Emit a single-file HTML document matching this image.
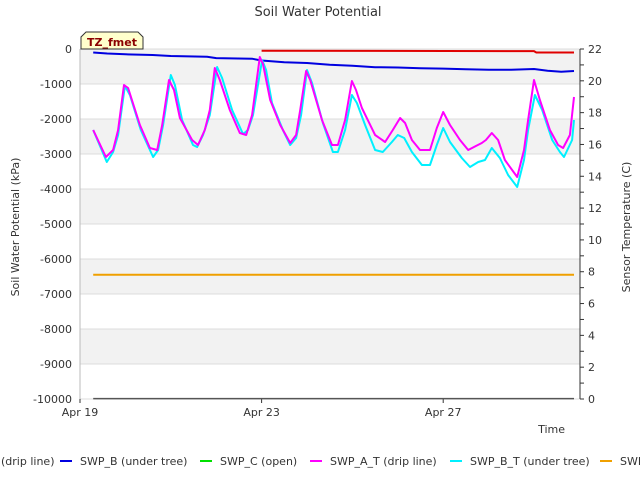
<!DOCTYPE html>
<html><head><meta charset="utf-8"><style>
body{margin:0;background:#fff;font-family:"Liberation Sans","DejaVu Sans",sans-serif;}
svg text{font-family:"DejaVu Sans","Liberation Sans",sans-serif;}
</style></head><body>
<svg id="c" width="640" height="480" xmlns="http://www.w3.org/2000/svg">
<text x="318" y="16" text-anchor="middle" font-size="13" fill="#333">Soil Water Potential</text>
<g id="bands"></g><g id="axes"></g><g id="series"></g>
<text x="565" y="433" text-anchor="end" font-size="11" fill="#333">Time</text>
<text transform="translate(19,227) rotate(-90)" text-anchor="middle" font-size="11" fill="#333">Soil Water Potential (kPa)</text>
<text transform="translate(630,227) rotate(-90)" text-anchor="middle" font-size="11" fill="#333">Sensor Temperature (C)</text>
<g><path d="M81,49 L81,37 L86,32 L138,32 L143,37 L143,49 Z" fill="#ffffcc" stroke="#333"/><text x="112" y="46" text-anchor="middle" font-size="11" font-weight="bold" fill="#8b0000">TZ_fmet</text></g>
<g id="legend" font-size="11" fill="#333"></g>
</svg>
<script>
const NS="http://www.w3.org/2000/svg";
const X0=80,X1=580,Y0=49,Y1=399;
const xDay=d=>X0+d*45.4;
const yK=v=>Y0+(-v)/10000*(Y1-Y0);
const yT=t=>Y1-t/22*(Y1-Y0);
const leftTicks=[0,-1000,-2000,-3000,-4000,-5000,-6000,-7000,-8000,-9000,-10000];
const rightTicks=[0,2,4,6,8,10,12,14,16,18,20,22];
const xTickDays=[0,4,8];
const xTickLabels=["Apr 19","Apr 23","Apr 27"];
const magT=[0.29,0.57,0.73,0.84,0.97,1.06,1.32,1.54,1.70,1.81,1.96,2.07,2.20,2.47,2.60,2.75,2.86,2.97,3.08,3.30,3.52,3.66,3.79,3.96,4.03,4.19,4.41,4.63,4.76,4.85,4.98,5.07,5.33,5.55,5.68,5.84,5.99,6.08,6.21,6.50,6.72,6.89,7.05,7.16,7.31,7.49,7.71,7.86,8.00,8.15,8.37,8.55,8.72,8.85,8.94,9.07,9.21,9.36,9.63,9.78,9.87,10.00,10.13,10.35,10.53,10.64,10.79,10.88];
const magV=[-2314,-3086,-2886,-2314,-1029,-1114,-2171,-2829,-2886,-2171,-886,-1171,-1971,-2600,-2743,-2314,-1743,-543,-886,-1743,-2400,-2457,-1886,-229,-429,-1457,-2171,-2686,-2457,-1743,-629,-886,-2029,-2743,-2743,-2029,-914,-1171,-1686,-2457,-2657,-2314,-1971,-2114,-2600,-2886,-2886,-2257,-1800,-2171,-2600,-2886,-2771,-2686,-2600,-2400,-2600,-3171,-3657,-2886,-2029,-886,-1457,-2314,-2743,-2829,-2457,-1371];
const cyaT=[0.29,0.59,0.73,0.84,0.99,1.10,1.34,1.61,1.72,1.83,2.00,2.09,2.25,2.49,2.58,2.71,2.86,3.02,3.13,3.35,3.59,3.70,3.81,4.01,4.10,4.23,4.47,4.63,4.76,4.87,5.00,5.11,5.35,5.57,5.68,5.84,5.99,6.10,6.28,6.50,6.67,6.87,7.00,7.14,7.31,7.53,7.71,7.86,8.00,8.15,8.41,8.59,8.77,8.92,9.07,9.25,9.43,9.63,9.78,9.87,10.02,10.18,10.40,10.57,10.66,10.84,10.88];
const cyaV=[-2314,-3229,-2943,-2457,-1057,-1314,-2314,-3086,-2886,-2171,-743,-1029,-2029,-2743,-2800,-2457,-1886,-514,-829,-1743,-2429,-2314,-1886,-314,-600,-1543,-2314,-2743,-2543,-1886,-600,-971,-2114,-2943,-2943,-2314,-1314,-1543,-2171,-2886,-2943,-2657,-2457,-2543,-2943,-3314,-3314,-2743,-2257,-2657,-3114,-3371,-3229,-3171,-2829,-3114,-3600,-3943,-3171,-2314,-1314,-1743,-2600,-2943,-3086,-2600,-2029];
const bluT=[0.29,0.6,1.0,1.6,2.0,2.8,3.0,3.8,4.0,4.5,5.0,5.5,6.0,6.5,7.0,7.5,8.0,8.5,9.0,9.5,10.0,10.3,10.6,10.88];
const bluV=[-100,-130,-150,-170,-200,-220,-260,-280,-330,-380,-400,-450,-480,-520,-530,-550,-560,-580,-590,-590,-570,-620,-650,-630];
const redT=[4.0,10.0,10.05,10.88];
const redV=[-50,-60,-100,-100];
const oraT=[0.29,10.88];
const oraV=[-6450,-6450];
const gryT=[0.29,10.88];
const gryV=[-9990,-9990];
function mk(tag,attrs,parent,name,txt){const e=document.createElementNS(NS,tag);for(const k in attrs)e.setAttribute(k,attrs[k]);


if(txt!==undefined)e.textContent=txt;parent.appendChild(e);return e;}
const bands=document.getElementById('bands'),axes=document.getElementById('axes'),ser=document.getElementById('series');
mk('rect',{x:X0,y:Y0,width:X1-X0,height:Y1-Y0,fill:'#fff'},bands,'plot-area');
for(let i=0;i<10;i+=2){mk('rect',{x:X0,y:yK(-i*1000),width:X1-X0,height:yK(-1000)-yK(0),fill:'#f2f2f2'},bands,'band');}
leftTicks.forEach(v=>{mk('line',{x1:X0,x2:X1,y1:yK(v),y2:yK(v),stroke:'#dcdcdc'},axes,'grid-line');
mk('text',{x:X0-8,y:yK(v)+4,'text-anchor':'end','font-size':11,fill:'#333'},axes,'y-tick-label',String(v));});
mk('line',{x1:X0,x2:X0,y1:Y0,y2:Y1,stroke:'#bbb'},axes,'y-axis');
mk('line',{x1:X1,x2:X1,y1:Y0,y2:Y1,stroke:'#333'},axes,'y2-axis');
for(let t=0;t<=22;t++){mk('line',{x1:X1,x2:X1+4,y1:yT(t),y2:yT(t),stroke:'#333'},axes,'y2-tick');}
rightTicks.forEach(t=>mk('text',{x:X1+8,y:yT(t)+4,'font-size':11,fill:'#333'},axes,'y2-tick-label',String(t)));
xTickDays.forEach((d,i)=>{mk('line',{x1:xDay(d),x2:xDay(d),y1:Y1,y2:Y1+4,stroke:'#333'},axes,'x-tick');
mk('text',{x:xDay(d),y:Y1+17,'text-anchor':'middle','font-size':11,fill:'#333'},axes,'x-tick-label',xTickLabels[i]);});
function line(T,V,col,name,w){const p=T.map((t,i)=>xDay(t).toFixed(1)+','+yK(V[i]).toFixed(1)).join(' ');
mk('polyline',{points:p,fill:'none',stroke:col,'stroke-width':w||2,'stroke-linejoin':'round'},ser,name);}
line(gryT,gryV,'#555','series-swp-c',1.5);
line(oraT,oraV,'#f0a000','series-swi');
line(redT,redV,'#e00000','series-swp-a');
line(bluT,bluV,'#0000e0','series-swp-b');
line(cyaT,cyaV,'#00f0ff','series-swp-b-t');
line(magT,magV,'#ff00ff','series-swp-a-t');
const lg=document.getElementById('legend');
const items=[["#e00000","SWP_A (drip line)",-60],["#0000e0","SWP_B (under tree)",60],["#00e000","SWP_C (open)",200],["#ff00ff","SWP_A_T (drip line)",310],["#00f0ff","SWP_B_T (under tree)",450],["#f0a000","SWI",600]];
items.forEach(it=>{mk('line',{x1:it[2],x2:it[2]+12,y1:461,y2:461,stroke:it[0],'stroke-width':2},lg,'legend-swatch');
mk('text',{x:it[2]+20,y:465,'font-size':11,fill:'#333'},lg,'legend-entry',it[1]);});
</script>
</body></html>
